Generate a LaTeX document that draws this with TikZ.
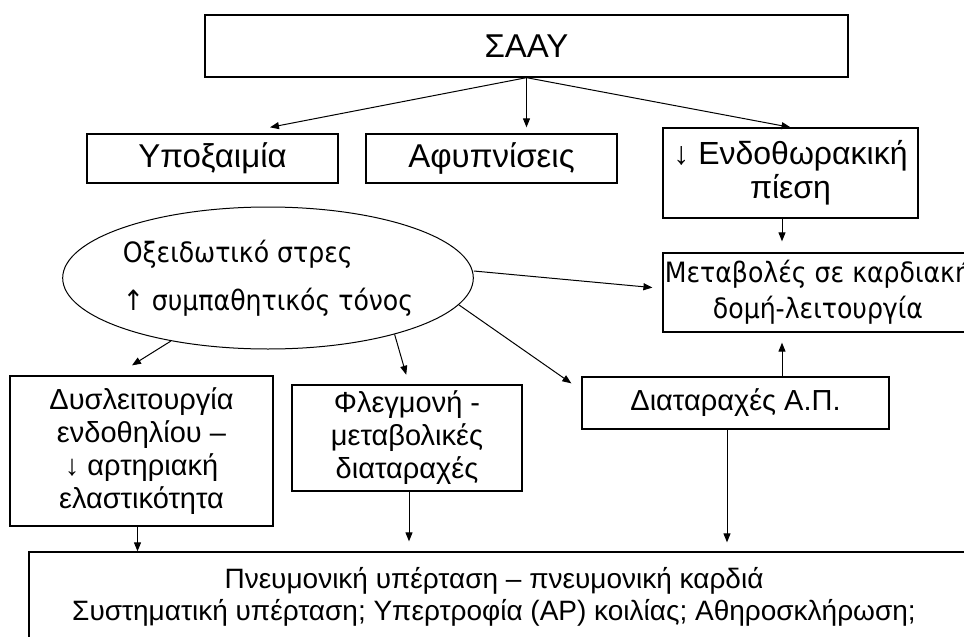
\documentclass[tikz,border=0pt]{standalone}
\usepackage{fontspec}
\setmainfont{Liberation Sans}
\newfontfamily\tahfont{DejaVu Sans Condensed}
\usetikzlibrary{arrows.meta,shapes.geometric}

\begin{document}
\begin{tikzpicture}[x=1pt,y=-1pt,font=\fontsize{28}{32.5}\selectfont,
		box/.style={draw,line width=1.3pt,align=center,inner sep=0pt},
		big/.style={font=\fontsize{33}{34}\selectfont},
		arr/.style={-{Triangle[length=9pt,width=7pt]},line width=1pt}]
		\useasboundingbox (0,0) rectangle (964,637);
		\clip (0,0) rectangle (964,637);
		\node[box,big,minimum width=643pt,minimum height=62pt] (saay) at (526.5,46) {ΣΑΑΥ};
		\node[box,big,minimum width=251pt,minimum height=49pt] (hypo) at (212.5,158.5) {Υποξαιμία};
		\node[box,big,minimum width=251pt,minimum height=49pt] (afyp) at (491.5,158.5) {Αφυπνίσεις};
		\node[box,minimum width=255pt,minimum height=90pt,font=\fontsize{32}{34}\selectfont] (endo) at (790.5,173) {↓ Ενδοθωρακική\\πίεση};
		\node[box,minimum width=310pt,minimum height=79pt,font=\tahfont\fontsize{28}{36}\selectfont] (meta) at (818,292.5) {Μεταβολές σε καρδιακή\\δομή-λειτουργία};
		\node[draw,ellipse,line width=1pt,minimum width=390pt,minimum height=142pt,inner sep=0pt,align=left,font=\tahfont\fontsize{28}{32.5}\selectfont] (ell) at (268,278) {Οξειδωτικό στρες\\[15pt]↑ συμπαθητικός τόνος};
		\node[box,minimum width=263pt,minimum height=150pt,font=\fontsize{29}{32.8}\selectfont] (dysl) at (141.5,451) {Δυσλειτουργία\\ενδοθηλίου –\\↓ αρτηριακή\\ελαστικότητα};
		\node[box,minimum width=230pt,minimum height=106pt,font=\fontsize{29}{33}\selectfont] (fleg) at (407,438) {Φλεγμονή -\\μεταβολικές\\διαταραχές};
		\node[box,minimum width=307pt,minimum height=52pt,font=\fontsize{29}{33}\selectfont] (diat) at (735.5,403) {Διαταραχές Α.Π.};
		\node[box,minimum width=946pt,minimum height=100pt] (pulm) at (502,602) {};
		\node[align=center,inner sep=0pt] (pulmtxt) at (494,597) {Πνευμονική υπέρταση – πνευμονική καρδιά\\Συστηματική υπέρταση; Υπερτροφία (ΑΡ) κοιλίας; Αθηροσκλήρωση;};

		\coordinate (hypoin) at ([xshift=57.5pt,yshift=6pt]hypo.north);
		\coordinate (dyslin) at ([xshift=-9.5pt,yshift=10pt]dysl.north);
		\coordinate (diatin) at ([xshift=-10pt,yshift=-7pt]diat.north west);
		\draw[arr] (saay.south) -- (hypoin);
		\draw[arr,shorten >=6pt] (saay.south) -- (saay.south |- afyp.north);
		\draw[arr] (saay.south) -- (endo.north);
		\draw[arr,shorten >=11pt] ([xshift=-8.5pt]endo.south) -- ([xshift=-8.5pt]endo.south |- meta.north);
		\draw[arr,shorten >=10pt] ([yshift=7pt]ell.east) -- ([yshift=4pt]meta.west);
		\draw[arr] (ell.213.6) -- (dyslin);
		\draw[arr,shorten >=10pt] (ell.-24) -- ([xshift=2pt]fleg.north);
		\draw[arr] (ell.-8.5) -- (diatin);
		\draw[arr,shorten >=10pt] ([xshift=46.5pt]diat.north) -- ([xshift=46.5pt]diat.north |- meta.south);
		\draw[arr] ([xshift=-4pt]dysl.south) -- ([xshift=-4pt]dysl.south |- pulm.north);
		\draw[arr,shorten >=10pt] ([xshift=2pt]fleg.south) -- ([xshift=2pt]fleg.south |- pulm.north);
		\draw[arr,shorten >=9pt] ([xshift=-8.5pt]diat.south) -- ([xshift=-8.5pt]diat.south |- pulm.north);
\end{tikzpicture}
\end{document}
